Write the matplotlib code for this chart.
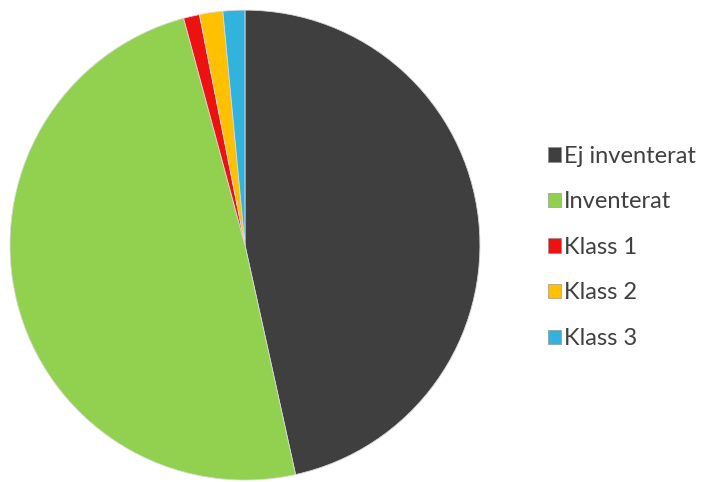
import matplotlib.pyplot as plt
from matplotlib.patches import Patch

labels = ['Ej inventerat', 'Inventerat', 'Klass 1', 'Klass 2', 'Klass 3']
values = [46.5, 49.2, 1.1, 1.6, 1.5]
colors = ['#3f3f3f', '#92d050', '#ee1111', '#ffc000', '#31b3dd']

plt.rcParams['font.family'] = ['Lato', 'DejaVu Sans']

fig = plt.figure(figsize=(7.08, 4.82), dpi=100)
ax = fig.add_axes([0.014, 0.004, 0.664, 0.975])

wedges, _ = ax.pie(values, colors=colors, startangle=90, counterclock=False,
                   radius=1.0, wedgeprops={'linewidth': 0.6, 'edgecolor': '#d8d8d8'})
ax.set_xlim(-1.0, 1.0)
ax.set_ylim(-1.0, 1.0)
ax.set_aspect('equal')
ax.axis('off')

handles = [Patch(facecolor=c, edgecolor='#888888', linewidth=0.4) for c in colors]
fig.legend(handles, labels, loc='upper left', bbox_to_anchor=(536 / 708, 1 - 134 / 482),
           frameon=False, fontsize=17, labelcolor='#404040',
           handlelength=0.55, handleheight=0.55, handletextpad=0.15,
           labelspacing=1.04, borderpad=0)

fig.savefig('out.png', dpi=100)
